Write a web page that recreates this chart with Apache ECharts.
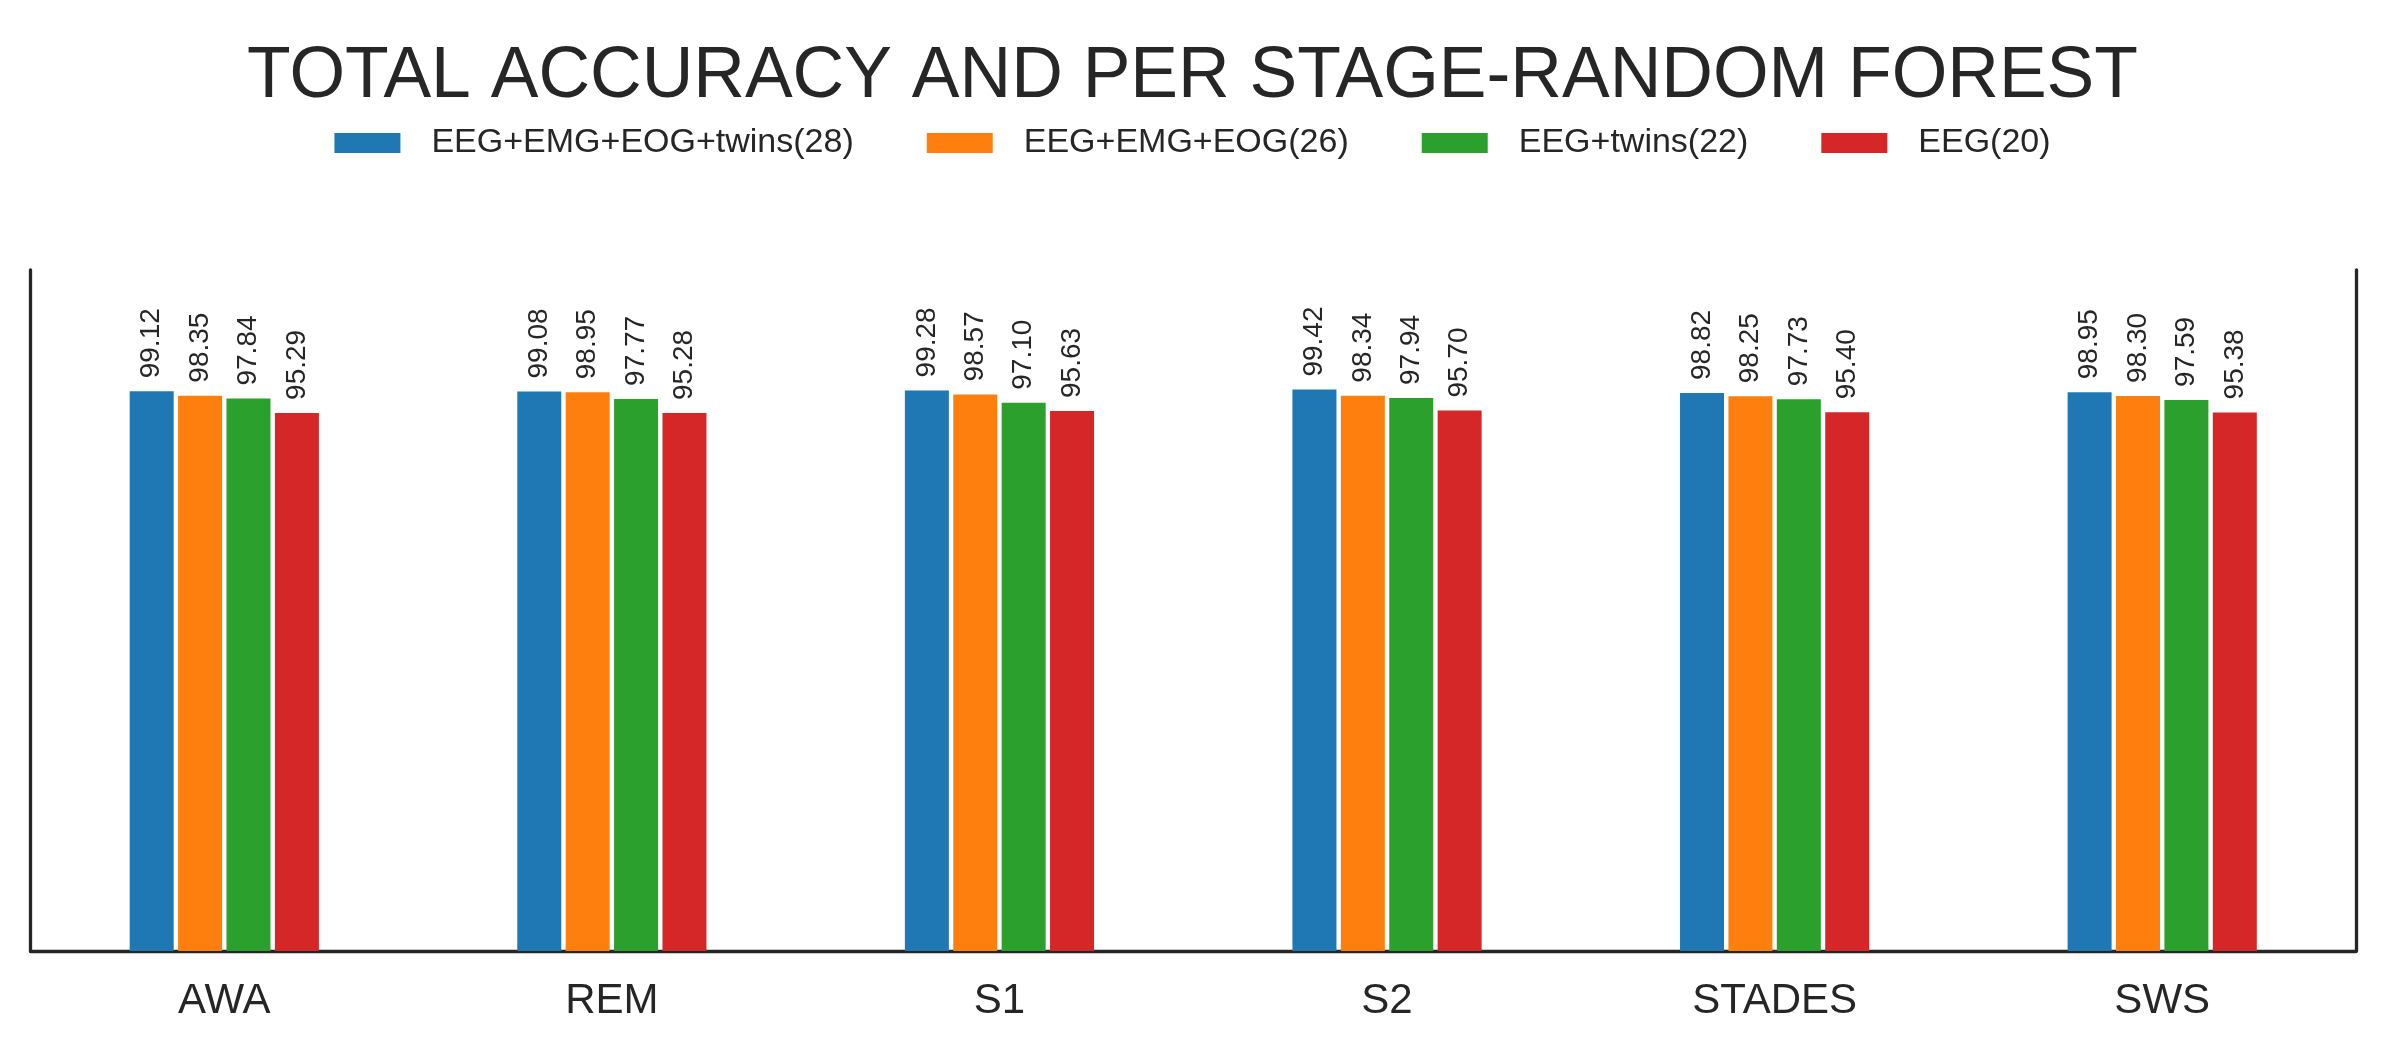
<!DOCTYPE html>
<html>
<head>
<meta charset="utf-8">
<script src="https://cdn.jsdelivr.net/npm/echarts@6/dist/echarts.min.js"></script>
<style>
html,body{margin:0;padding:0;background:#fff;}
#chart{width:2385px;height:1048px;}
</style>
</head>
<body>
<div id="chart"></div>
<script>
const categories = ['AWA', 'REM', 'S1', 'S2', 'STADES', 'SWS'];
const seriesNames = ['EEG+EMG+EOG+twins(28)', 'EEG+EMG+EOG(26)', 'EEG+twins(22)', 'EEG(20)'];
const valsAll = [99.12, 99.08, 99.28, 99.42, 98.82, 98.95];
const valsNoTwins = [98.35, 98.95, 98.57, 98.34, 98.25, 98.30];
const valsEegTwins = [97.84, 97.77, 97.10, 97.94, 97.73, 97.59];
const valsEeg = [95.29, 95.28, 95.63, 95.70, 95.40, 95.38];
const colors = ['#1f77b4', '#ff7f0e', '#2ca02c', '#d62728'];

const seriesData = [valsAll, valsNoTwins, valsEegTwins, valsEeg];
const font = 'Liberation Sans, Arial, sans-serif';
const ink = '#262626';

const chart = echarts.init(document.getElementById('chart'));
chart.setOption({
  animation: false,
  backgroundColor: '#ffffff',
  title: {
    text: 'TOTAL ACCURACY AND PER STAGE-RANDOM FOREST',
    left: 'center',
    top: 36,
    textStyle: { fontFamily: font, fontSize: 71.5, fontWeight: 'normal', color: ink }
  },
  legend: {
    top: 121,
    left: 'center',
    itemWidth: 66,
    itemHeight: 20,
    itemGap: 73,
    icon: 'rect',
    textStyle: { fontFamily: font, fontSize: 34, color: ink, padding: [0, 0, 0, 26] },
    data: seriesNames
  },
  grid: { left: 30.5, right: 29, top: 270, bottom: 97, containLabel: false },
  xAxis: {
    type: 'category',
    data: categories,
    axisLine: { show: true, lineStyle: { color: ink, width: 3.3 } },
    axisTick: { show: false },
    axisLabel: { fontFamily: font, fontSize: 42, color: ink, margin: 29 },
    splitLine: { show: false }
  },
  yAxis: [
    {
      type: 'value', min: 0, max: 120.6, position: 'left',
      axisLine: { show: true, lineStyle: { color: ink, width: 3.3 } },
      axisTick: { show: false }, axisLabel: { show: false }, splitLine: { show: false }
    },
    {
      type: 'value', min: 0, max: 120.6, position: 'right',
      axisLine: { show: true, lineStyle: { color: ink, width: 3.3 } },
      axisTick: { show: false }, axisLabel: { show: false }, splitLine: { show: false }
    }
  ],
  series: seriesData.map((d, i) => ({
    name: seriesNames[i],
    type: 'bar',
    data: d,
    barWidth: 44,
    barGap: '10%',
    itemStyle: { color: colors[i] },
    label: {
      show: true,
      position: 'top',
      distance: 13,
      rotate: 90,
      align: 'left',
      verticalAlign: 'middle',
      fontFamily: font,
      fontSize: 28,
      color: ink,
      formatter: p => p.value.toFixed(2)
    }
  }))
});
</script>
</body>
</html>
